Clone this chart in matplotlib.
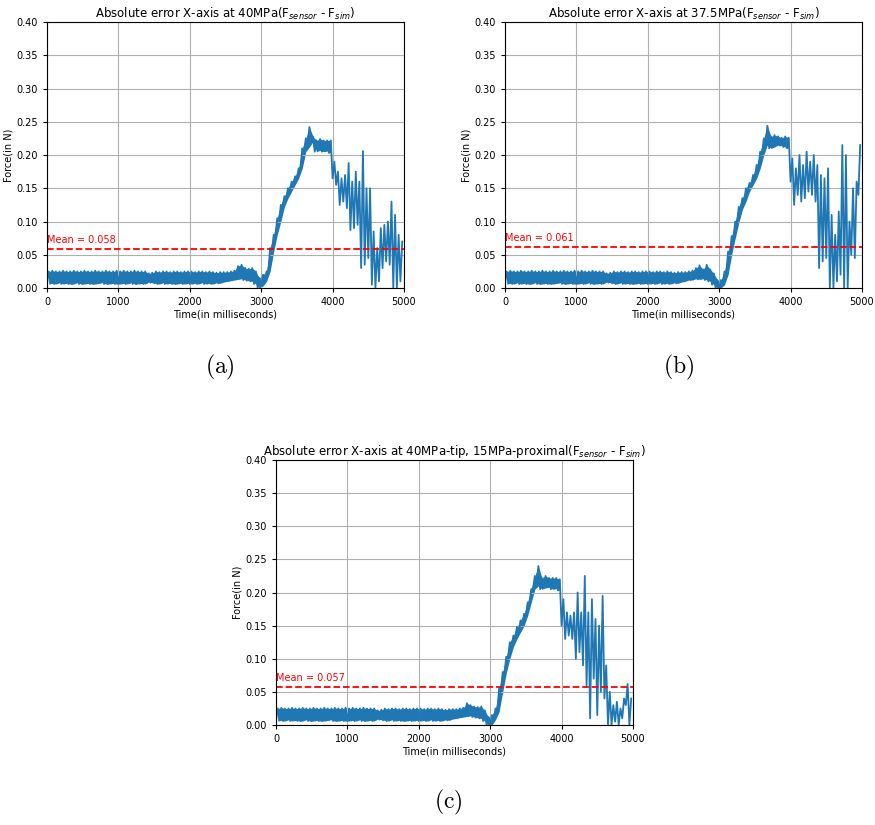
import numpy as np
import matplotlib
matplotlib.use("Agg")
import matplotlib.pyplot as plt

# error envelope, one (low, high) pair per 50 ms bin
# 0 - 2500 ms the three runs share the same sensor noise band
flat_lo = [0.006, 0.007, 0.006, 0.008, 0.006, 0.007, 0.006, 0.006, 0.008, 0.006,
           0.006, 0.007, 0.006, 0.006, 0.007, 0.008, 0.006, 0.006, 0.007, 0.006,
           0.006, 0.007, 0.006, 0.008, 0.006, 0.006, 0.007, 0.006, 0.009, 0.008,
           0.007, 0.006, 0.008, 0.006, 0.007, 0.006, 0.006, 0.007, 0.006, 0.007,
           0.006, 0.007, 0.006, 0.008, 0.006, 0.007, 0.006, 0.008, 0.007, 0.009]
flat_hi = [0.025, 0.026, 0.025, 0.025, 0.026, 0.025, 0.025, 0.026, 0.025, 0.025,
           0.026, 0.025, 0.025, 0.026, 0.025, 0.025, 0.026, 0.025, 0.025, 0.026,
           0.025, 0.026, 0.025, 0.025, 0.026, 0.025, 0.025, 0.025, 0.022, 0.023,
           0.025, 0.024, 0.025, 0.025, 0.024, 0.025, 0.025, 0.024, 0.025, 0.025,
           0.025, 0.024, 0.025, 0.025, 0.024, 0.025, 0.024, 0.023, 0.024, 0.024]

# 2500 - 5000 ms, per run
tail_a_lo = [0.010, 0.011, 0.012, 0.013, 0.014, 0.012, 0.011, 0.010, 0.006, 0.000,
             0.003, 0.010, 0.025, 0.055, 0.080, 0.100, 0.122, 0.135, 0.145, 0.155,
             0.165, 0.180, 0.205, 0.212, 0.220, 0.205, 0.207, 0.205, 0.206, 0.203,
             0.165, 0.155, 0.125, 0.130, 0.120, 0.087, 0.090, 0.095, 0.030, 0.035,
             0.045, 0.005, 0.000, 0.010, 0.030, 0.040, 0.035, 0.000, 0.000, 0.010]
tail_a_hi = [0.024, 0.025, 0.026, 0.033, 0.035, 0.030, 0.029, 0.030, 0.025, 0.015,
             0.020, 0.025, 0.060, 0.080, 0.105, 0.125, 0.138, 0.150, 0.160, 0.168,
             0.180, 0.210, 0.225, 0.242, 0.228, 0.222, 0.224, 0.222, 0.222, 0.222,
             0.190, 0.175, 0.165, 0.170, 0.188, 0.160, 0.175, 0.160, 0.206, 0.150,
             0.150, 0.085, 0.060, 0.090, 0.095, 0.100, 0.130, 0.110, 0.080, 0.070]

tail_b_lo = [0.010, 0.012, 0.012, 0.014, 0.013, 0.014, 0.012, 0.010, 0.005, 0.000,
             0.000, 0.005, 0.020, 0.050, 0.075, 0.098, 0.118, 0.130, 0.145, 0.155,
             0.165, 0.180, 0.200, 0.215, 0.210, 0.212, 0.215, 0.214, 0.212, 0.210,
             0.160, 0.125, 0.140, 0.130, 0.135, 0.145, 0.140, 0.130, 0.030, 0.040,
             0.045, 0.000, 0.000, 0.010, 0.020, 0.000, 0.000, 0.050, 0.045, 0.140]
tail_b_hi = [0.024, 0.025, 0.026, 0.030, 0.034, 0.028, 0.035, 0.028, 0.022, 0.012,
             0.012, 0.025, 0.055, 0.078, 0.100, 0.122, 0.135, 0.150, 0.158, 0.170,
             0.185, 0.205, 0.225, 0.244, 0.228, 0.230, 0.228, 0.226, 0.228, 0.226,
             0.195, 0.180, 0.200, 0.185, 0.205, 0.190, 0.200, 0.185, 0.170, 0.165,
             0.180, 0.110, 0.080, 0.115, 0.215, 0.200, 0.100, 0.150, 0.160, 0.215]

tail_c_lo = [0.010, 0.011, 0.012, 0.013, 0.014, 0.012, 0.011, 0.010, 0.006, 0.000,
             0.000, 0.008, 0.020, 0.050, 0.078, 0.100, 0.118, 0.130, 0.140, 0.150,
             0.165, 0.185, 0.205, 0.210, 0.205, 0.207, 0.208, 0.205, 0.206, 0.203,
             0.150, 0.130, 0.135, 0.130, 0.100, 0.110, 0.090, 0.060, 0.010, 0.070,
             0.015, 0.050, 0.040, 0.000, 0.000, 0.005, 0.000, 0.010, 0.030, 0.000]
tail_c_hi = [0.024, 0.025, 0.026, 0.033, 0.030, 0.028, 0.027, 0.028, 0.022, 0.012,
             0.015, 0.025, 0.055, 0.080, 0.103, 0.125, 0.135, 0.148, 0.158, 0.168,
             0.185, 0.205, 0.225, 0.240, 0.222, 0.225, 0.222, 0.222, 0.222, 0.220,
             0.190, 0.170, 0.165, 0.170, 0.200, 0.170, 0.225, 0.170, 0.190, 0.160,
             0.150, 0.195, 0.090, 0.050, 0.030, 0.035, 0.025, 0.040, 0.062, 0.040]

means = [0.058, 0.061, 0.057]
mean_lines = [0.058, 0.062, 0.057]
titles = [
    r"Absolute error X-axis at 40MPa(F$_{sensor}$ - F$_{sim}$)",
    r"Absolute error X-axis at 37.5MPa(F$_{sensor}$ - F$_{sim}$)",
    r"Absolute error X-axis at 40MPa-tip, 15MPa-proximal(F$_{sensor}$ - F$_{sim}$)",
]
panel_tags = ["(a)", "(b)", "(c)"]

BIN = 50
BLUE = "#1f77b4"


def trace(lo, hi):
    # zig-zag between low and high of every bin so the band reads as noise
    t0 = np.arange(len(lo)) * BIN
    x = np.empty(2 * len(lo))
    y = np.empty(2 * len(lo))
    x[0::2] = t0
    x[1::2] = t0 + BIN / 2
    y[0::2] = lo
    y[1::2] = hi
    return x, y


series = [
    (flat_lo + tail_a_lo, flat_hi + tail_a_hi),
    (flat_lo + tail_b_lo, flat_hi + tail_b_hi),
    (flat_lo + tail_c_lo, flat_hi + tail_c_hi),
]

fig = plt.figure(figsize=(8.75, 8.25), dpi=100)
rects = [
    [0.0537, 0.6509, 0.408, 0.3224],
    [0.5771, 0.6509, 0.408, 0.3224],
    [0.3154, 0.1212, 0.408, 0.3212],
]
tag_pos = [(0.2514, 0.555), (0.775, 0.555), (0.512, 0.027)]

for i in range(3):
    ax = fig.add_axes(rects[i])
    lo, hi = series[i]
    x, y = trace(lo, hi)
    tc = np.arange(len(lo)) * BIN + BIN / 2
    # dense band of the raw samples up to the end of the plateau
    ax.fill_between(tc, lo, hi, where=tc < 4000, color=BLUE, linewidth=0)
    ax.plot(x, y, color=BLUE, linewidth=1.3)
    ax.axhline(mean_lines[i], color="red", linestyle="--", linewidth=1.3)
    ax.text(0, mean_lines[i] + 0.006, f"Mean = {means[i]}", color="red",
            fontsize=7, va="bottom", ha="left")
    ax.set_xlim(0, 5000)
    ax.set_ylim(0, 0.40)
    ax.set_xticks([0, 1000, 2000, 3000, 4000, 5000])
    ax.set_yticks(np.arange(0, 0.41, 0.05))
    ax.set_yticklabels([f"{v:.2f}" for v in np.arange(0, 0.41, 0.05)])
    ax.tick_params(labelsize=7, length=3)
    ax.grid(True)
    ax.set_xlabel("Time(in milliseconds)", fontsize=7, labelpad=2)
    ax.set_ylabel("Force(in N)", fontsize=7, labelpad=2)
    ax.set_title(titles[i], fontsize=8.5, pad=3)
    fig.text(tag_pos[i][0], tag_pos[i][1], r"$\mathrm{" + panel_tags[i] + "}$",
             fontsize=17, ha="center", va="center", math_fontfamily="cm")

fig.savefig("out.png", dpi=100)
